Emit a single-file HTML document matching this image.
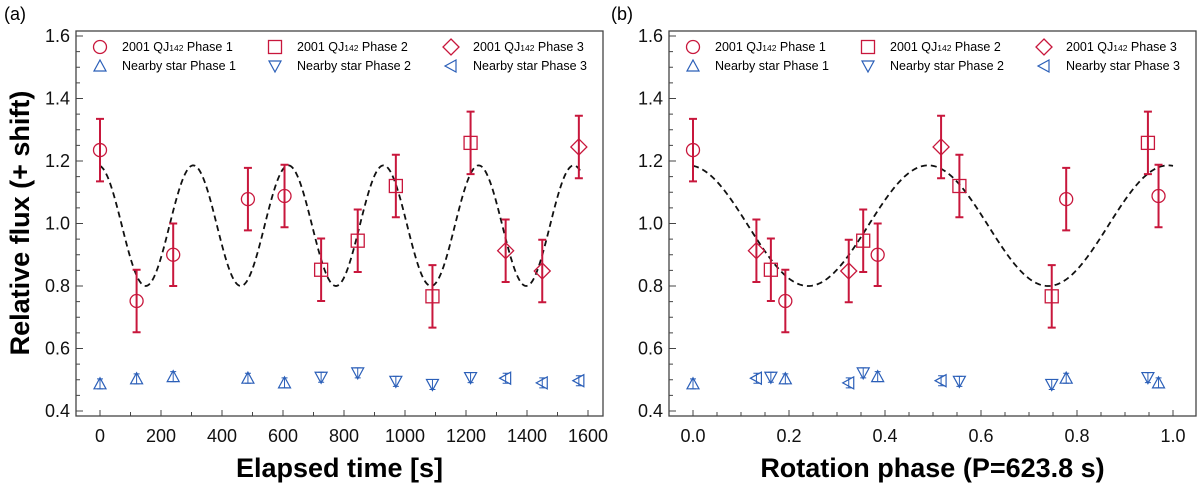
<!DOCTYPE html>
<html><head><meta charset="utf-8"><style>
body{margin:0;background:#fff;width:1200px;height:483px;overflow:hidden}
svg text{font-family:"Liberation Sans",Arial,sans-serif}
</style></head><body>
<svg id="s" width="1200" height="483" xmlns="http://www.w3.org/2000/svg"></svg>
<script>
// ---- data ----
const timesP1 = [0, 120, 240, 485, 605];
const fluxP1 = [1.235, 0.752, 0.900, 1.078, 1.088];
const timesP2 = [725, 845, 970, 1090, 1215];
const fluxP2 = [0.852, 0.945, 1.120, 0.767, 1.258];
const timesP3 = [1330, 1450, 1570];
const fluxP3 = [0.913, 0.848, 1.245];
const errP1 = [0.10, 0.10, 0.10, 0.10, 0.10];
const errP2 = [0.10, 0.10, 0.10, 0.10, 0.10];
const errP3 = [0.10, 0.10, 0.10];
const starP1 = [0.487, 0.503, 0.510, 0.505, 0.490];
const starP2 = [0.508, 0.522, 0.495, 0.485, 0.507];
const starP3 = [0.505, 0.490, 0.497];
const period = [623.8];
const modelParams = [0.993, 0.193, 0.49]; // mean, amplitude, peak phase
const yTicks = [0.4, 0.6, 0.8, 1.0, 1.2, 1.4, 1.6];
const xTicksA = [0, 200, 400, 600, 800, 1000, 1200, 1400, 1600];
const xTicksB = [0.0, 0.2, 0.4, 0.6, 0.8, 1.0];

const NS = "http://www.w3.org/2000/svg";
const svg = document.getElementById('s');
const RED = "#c8173c", BLUE = "#2b5fb8";
function mk(tag, at, parent){const e=document.createElementNS(NS,tag);for(const k in at)e.setAttribute(k,at[k]);(parent||svg).appendChild(e);return e;}

const yTop = 31, yBot = 416;
function yS(v){return 411 - (v-0.4)*312.5;}
function model(ph){return modelParams[0]+modelParams[1]*Math.cos(4*Math.PI*(ph-modelParams[2]));}

function marker(g, type, x, y, col){
  const r=6.5; let e;
  if(type==='circle'){e=mk('circle',{cx:x,cy:y,r:r,fill:'none',stroke:col,'stroke-width':1.3},g);}
  else if(type==='square'){e=mk('rect',{x:x-r,y:y-r,width:2*r,height:2*r,fill:'none',stroke:col,'stroke-width':1.3},g);}
  else if(type==='diamond'){e=mk('polygon',{points:`${x},${y-8} ${x+8},${y} ${x},${y+8} ${x-8},${y}`,fill:'none',stroke:col,'stroke-width':1.3},g);}
  else if(type==='up'){e=mk('polygon',{points:`${x},${y-6} ${x+6},${y+5} ${x-6},${y+5}`,fill:'none',stroke:col,'stroke-width':1.2},g);}
  else if(type==='down'){e=mk('polygon',{points:`${x},${y+6} ${x+6},${y-5} ${x-6},${y-5}`,fill:'none',stroke:col,'stroke-width':1.2},g);}
  else {e=mk('polygon',{points:`${x-6},${y} ${x+5},${y-6} ${x+5},${y+6}`,fill:'none',stroke:col,'stroke-width':1.2},g);}
  return e;
}

function panel(id, left, right, xS, xTicks, fmt, minorStep, xMin, xMax, isPhase, title, letter, letterX){
  const g = mk('g',{});
  
  
  const lt = mk('text',{x:letterX,y:20,'font-size':18},g); lt.textContent=letter;
  
  
  const fr = mk('rect',{x:left,y:yTop,width:right-left,height:yBot-yTop,fill:'none',stroke:'#444','stroke-width':1.3},g);
  
  
  // y ticks every 0.05, major every 0.2
  for(let k=0;k<=24;k++){
    const v=0.4+k*0.05;
    const major = k%4===0;
    mk('line',{x1:left,x2:left+(major?7:4),y1:yS(v),y2:yS(v),stroke:'#444','stroke-width':1},g);
  }
  yTicks.forEach(v=>{
    const t=mk('text',{x:left-6,y:yS(v)+6,'font-size':18,'text-anchor':'end',fill:'#111'},g);
    t.textContent=v.toFixed(1);
    
    
  });
  // x ticks
  for(let v=xMin; v<=xMax+1e-9; v+=minorStep){
    const x=xS(v); if(x<left||x>right) continue;
    const maj = xTicks.some(t=>Math.abs(t-v)<1e-6);
    mk('line',{x1:x,x2:x,y1:yBot,y2:yBot-(maj?6:4),stroke:'#444','stroke-width':1},g);
  }
  xTicks.forEach(v=>{
    const t=mk('text',{x:xS(v),y:442,'font-size':18,'text-anchor':'middle',fill:'#111'},g);
    t.textContent=fmt(v);
    
    
  });
  const xt=mk('text',{x:(left+right)/2,y:477,'font-size':27,'font-weight':'bold','text-anchor':'middle'},g);
  xt.textContent=title;
  
  
  // model curve
  let d='';
  const N=400;
  for(let i=0;i<=N;i++){
    let xv, ph;
    if(isPhase){xv=i/N; ph=xv;} else {xv=i/N*1575; ph=xv/period[0];}
    d+=(i?'L':'M')+xS(xv).toFixed(2)+','+yS(model(ph)).toFixed(2);
  }
  const c=mk('path',{d:d,fill:'none',stroke:'#111','stroke-width':1.8,'stroke-dasharray':'6,4'},g);
  
  
  // data
  const sets=[[timesP1,fluxP1,errP1,starP1,'circle','up'],[timesP2,fluxP2,errP2,starP2,'square','down'],[timesP3,fluxP3,errP3,starP3,'diamond','left']];
  sets.forEach((s,si)=>{
    s[0].forEach((t,i)=>{
      const xv = isPhase ? (t/period[0])%1 : t;
      const x=xS(xv), y=yS(s[1][i]), e=s[2][i];
      const eb=mk('path',{d:`M${x},${yS(s[1][i]+e)}V${yS(s[1][i]-e)}M${x-4},${yS(s[1][i]+e)}h8M${x-4},${yS(s[1][i]-e)}h8`,stroke:RED,'stroke-width':2,fill:'none'},g);
      
      
      const m=marker(g,s[4],x,y,RED);
      
      
      const ys=yS(s[3][i]);
      mk('path',{d:`M${x},${ys-5}V${ys+5}M${x-3},${ys-5}h6M${x-3},${ys+5}h6`,stroke:BLUE,'stroke-width':1},g);
      const sm=marker(g,s[5],x,ys,BLUE);
      
      
    });
  });
  // legend
  const cols=[left+24,left+199,left+375];
  const labs=[['circle','up','1'],['square','down','2'],['diamond','left','3']];
  labs.forEach((l,i)=>{
    const lg=mk('g',{},g);
    
    
    marker(lg,l[0],cols[i],47,RED);
    const t=mk('text',{x:cols[i]+22,y:51,'font-size':12.5},lg);
    t.innerHTML='2001 QJ<tspan font-size="8.5">142</tspan> Phase '+l[2];
    const lg2=mk('g',{},g);
    
    
    marker(lg2,l[1],cols[i],66,BLUE);
    const t2=mk('text',{x:cols[i]+22,y:70,'font-size':12.5},lg2);
    t2.textContent='Nearby star Phase '+l[2];
  });
}

panel('panel-a-time',76,603,v=>100+v*0.305,xTicksA,v=>String(v),100,0,1700,false,'Elapsed time [s]','(a)',4);
panel('panel-b-phase',669,1196,v=>693+v*480,xTicksB,v=>v.toFixed(1),0.05,0,1.05,true,'Rotation phase (P=623.8 s)','(b)',611);

const yt=mk('text',{x:0,y:0,'font-size':27,'font-weight':'bold','text-anchor':'middle',transform:'translate(29,223) rotate(-90)'});
yt.textContent='Relative flux (+ shift)';


</script>
</body></html>
